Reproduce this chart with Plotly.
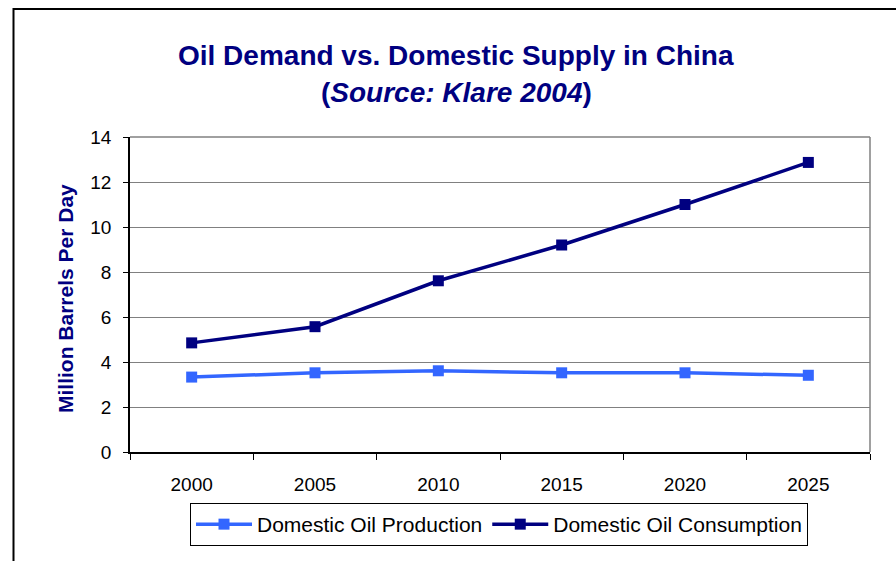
import plotly.graph_objects as go

years = ["2000", "2005", "2010", "2015", "2020", "2025"]
production = [3.33, 3.52, 3.61, 3.52, 3.52, 3.41]
consumption = [4.85, 5.57, 7.61, 9.2, 11.0, 12.87]
y_ticks = [0, 2, 4, 6, 8, 10, 12, 14]

NAVY = "#000080"
BLUE = "#3366FF"
FONT = "Liberation Sans, Arial, sans-serif"

fig = go.Figure()
fig.add_trace(go.Scatter(
    x=years, y=production, name="Domestic Oil Production",
    mode="lines+markers",
    line=dict(color=BLUE, width=3.5),
    marker=dict(symbol="square", size=11, color=BLUE),
))
fig.add_trace(go.Scatter(
    x=years, y=consumption, name="Domestic Oil Consumption",
    mode="lines+markers",
    line=dict(color=NAVY, width=3.5),
    marker=dict(symbol="square", size=11, color=NAVY),
))

L, R, T, B = 130, 26, 137, 109
W, H = 896, 561
pw, ph = W - L - R, H - T - B

def px(x):
    return (x - L) / pw

def py(y):
    return (H - B - y) / ph

fig.update_layout(
    width=W, height=H,
    margin=dict(l=L, r=R, t=T, b=B),
    paper_bgcolor="white", plot_bgcolor="white",
    font=dict(family=FONT, color="black", size=19),
    showlegend=True,
    legend=dict(
        orientation="h", x=px(499), xanchor="center", y=py(503), yanchor="top",
        bordercolor="black", borderwidth=1, font=dict(size=21),
        itemwidth=56,
    ),
    xaxis=dict(
        type="category", tickson="boundaries", ticks="outside", ticklen=6,
        tickcolor="black", showline=True, linecolor="black", linewidth=1.5,
        showgrid=False, tickfont=dict(size=19), range=[-0.5, 5.5],
        ticklabelstandoff=14,
    ),
    yaxis=dict(
        range=[0, 14], tickvals=y_ticks, ticks="outside", ticklen=5,
        tickcolor="black", showline=True, linecolor="black", linewidth=1.5,
        showgrid=True, gridcolor="#808080", gridwidth=1, zeroline=False,
        tickfont=dict(size=19), ticklabelstandoff=8,
    ),
    annotations=[
        dict(text="<b>Oil Demand vs. Domestic Supply in China</b>",
             xref="paper", yref="paper", x=px(456), y=py(55),
             xanchor="center", yanchor="middle", showarrow=False,
             font=dict(size=28, color=NAVY, family=FONT)),
        dict(text="<b>(<i>Source: Klare 2004</i>)</b>",
             xref="paper", yref="paper", x=px(456), y=py(92),
             xanchor="center", yanchor="middle", showarrow=False,
             font=dict(size=28, color=NAVY, family=FONT)),
        dict(text="<b>Million Barrels Per Day</b>",
             xref="paper", yref="paper", x=px(65), y=py(299),
             xanchor="center", yanchor="middle", showarrow=False,
             textangle=-90,
             font=dict(size=21, color=NAVY, family=FONT)),
    ],
    shapes=[
        dict(type="line", xref="paper", yref="paper", x0=0, x1=1, y0=1, y1=1,
             line=dict(color="#808080", width=1.5)),
        dict(type="line", xref="paper", yref="paper", x0=1, x1=1, y0=0, y1=1,
             line=dict(color="#808080", width=1.5)),
        dict(type="rect", xref="paper", yref="paper",
             x0=px(13.5), x1=px(910), y0=py(575), y1=py(9),
             line=dict(color="black", width=2), layer="above"),
    ],
)

fig.write_html("out.html")
